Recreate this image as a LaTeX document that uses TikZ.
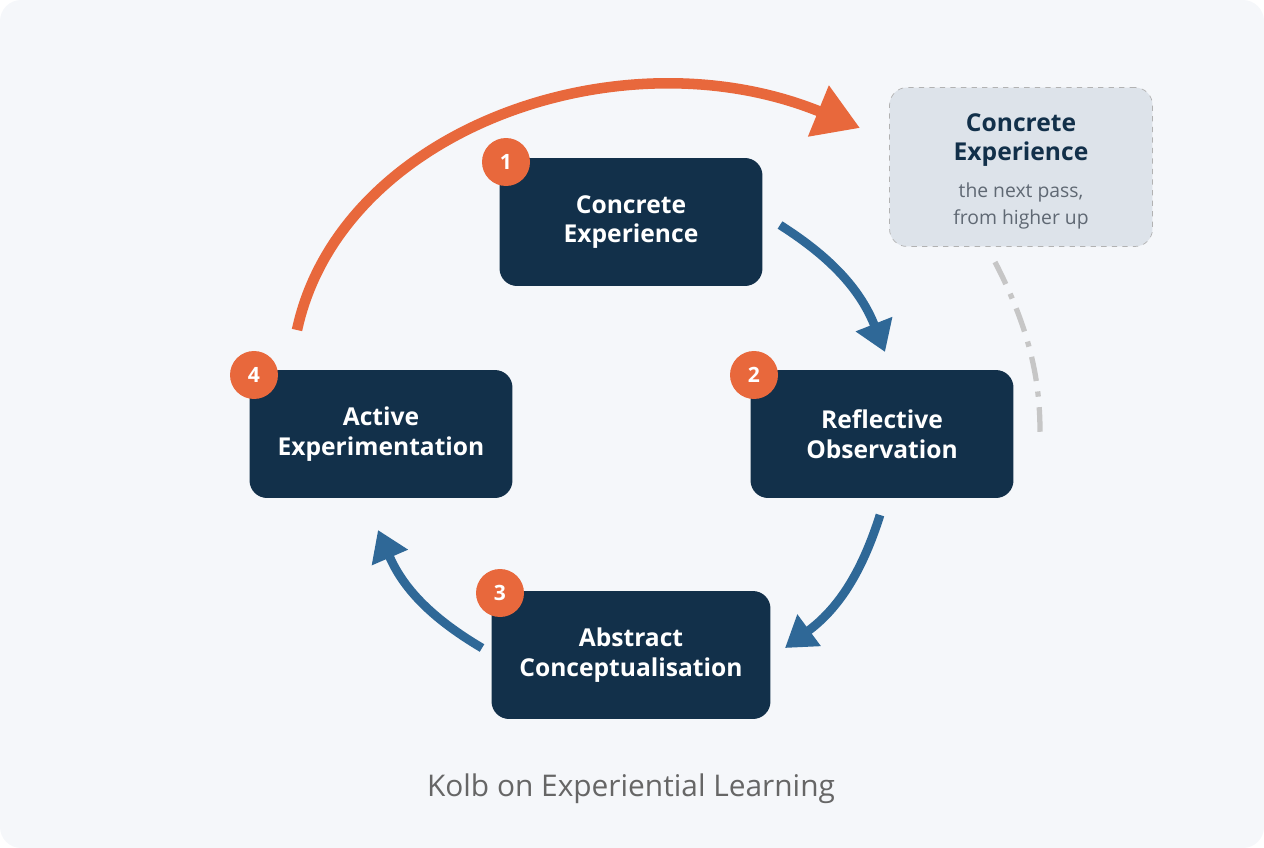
\documentclass[tikz,border=0pt]{standalone}
\usepackage{fontspec}
\setmainfont{Open Sans}
\usetikzlibrary{arrows.meta}
\definecolor{navy}{HTML}{12304A}
\definecolor{orng}{HTML}{E8683C}
\definecolor{flow}{HTML}{2F6897}
\definecolor{paper}{HTML}{F5F7FA}
\definecolor{ghost}{HTML}{DDE3EA}
\definecolor{note}{HTML}{5F6873}
\begin{document}
\begin{tikzpicture}[x=0.02cm, y=-0.02cm,
        stage/.style={fill=navy, rounded corners=10pt, minimum width=5.26cm, minimum height=2.56cm,
            text=white, align=center, font=\fontsize{14}{17}\selectfont\bfseries},
        badge/.style={circle, fill=orng, minimum size=0.96cm, inner sep=0pt, text=white,
            font=\fontsize{12}{14}\selectfont\bfseries},
        flowarrow/.style={flow, line width=5pt, -{Triangle[length=0.6cm, width=0.75cm]}},
        passarrow/.style={orng, line width=6pt, -{Triangle[length=0.9cm, width=1.05cm]}}]

    % background
    \fill[paper, rounded corners=12pt] (0,0) rectangle (1264,848);
    \useasboundingbox (0,0) rectangle (1264,848);

    % stages
    \node[stage] (ce) at (631,222) {Concrete\\Experience};
    \node[stage] (ro) at (882,434) {Reflective\\Observation};
    \node[stage, minimum width=5.58cm] (ac) at (631,655) {Abstract\\Conceptualisation};
    \node[stage] (ae) at (381,434) {Active\\Experimentation};

    \node[badge] (b1) at (506,162) {1};
    \node[badge] (b2) at (754,375) {2};
    \node[badge] (b3) at (500,593) {3};
    \node[badge] (b4) at (254,375) {4};

    % next pass
    \node[draw=gray!60, dashed, fill=ghost, rounded corners=10pt, minimum width=5.26cm, minimum height=3.18cm] (nx) at (1021,167) {};
    \node[text=navy, align=center, font=\fontsize{14}{17}\selectfont\bfseries] (nxt) at (1021,140) {Concrete\\Experience};
    \node[text=note, align=center, font=\fontsize{11}{15}\selectfont] (nxs) at (1021,206) {the next pass,\\from higher up};
    \coordinate (nxtop) at (995,262);
    \coordinate (nxend) at (1040,432);
    \draw[gray!45, line width=3pt, dash pattern=on 14pt off 6pt on 3pt off 6pt]
        (nxtop) .. controls (1030,330) and (1040,380) .. (nxend);

    % flow
    \coordinate (s1) at (780,225); \coordinate (e1) at (885,352);
    \coordinate (s2) at (880,515); \coordinate (e2) at (785,648);
    \coordinate (s3) at (482,648); \coordinate (e3) at (378,530);
    \draw[flowarrow] (s1) to[bend left=18] (e1);
    \draw[flowarrow] (s2) to[bend left=18] (e2);
    \draw[flowarrow] (s3) to[bend left=18] (e3);

    \coordinate (la) at (297,330); \coordinate (lb) at (860,128);
    \draw[passarrow] (la) .. controls (340,130) and (620,30) .. (lb);

    \node[text=gray!80!black, font=\fontsize{17}{20}\selectfont] (title) at (631,789)
        {Kolb on Experiential Learning};
\end{tikzpicture}
\end{document}
